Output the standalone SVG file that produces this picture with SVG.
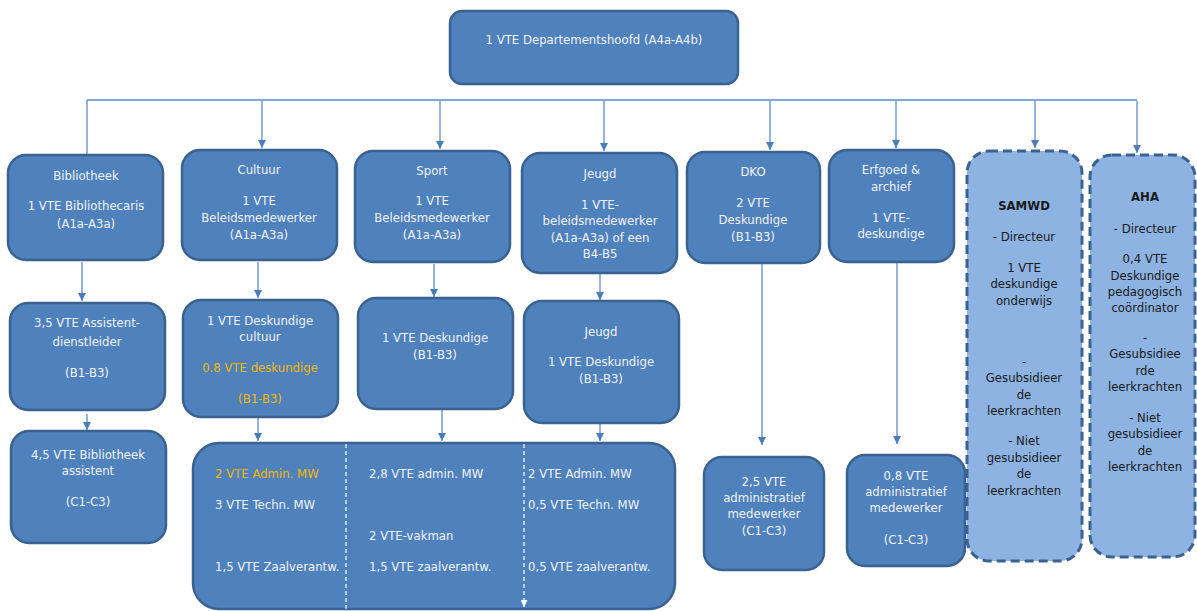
<svg xmlns="http://www.w3.org/2000/svg" width="1197" height="611" viewBox="0 0 1197 611">
<defs>
<marker id="arr" viewBox="0 0 10 10" refX="10" refY="5" markerWidth="8" markerHeight="8" markerUnits="userSpaceOnUse" orient="auto"><path d="M0,0 L10,5 L0,10 z" fill="#4A7EBB"/></marker>
<marker id="arrw" viewBox="0 0 10 10" refX="10" refY="5" markerWidth="7" markerHeight="7" markerUnits="userSpaceOnUse" orient="auto"><path d="M0,0 L10,5 L0,10 z" fill="#FFFFFF"/></marker>
</defs>
<style>
.box{fill:#4F81BD;stroke:#3A6291;stroke-width:2.5}
.lbox{fill:#8DB3E2;stroke:#3A6291;stroke-width:3;stroke-dasharray:9 5}
.t{font-family:"DejaVu Sans",Verdana,sans-serif;font-size:11.7px;fill:#F2F2F2;text-anchor:middle}
.l{text-anchor:start}
.o{fill:#F5B800}
.d{fill:#1A1A1A}
.b{font-weight:bold}
.c{fill:none;stroke:#5B8CC8;stroke-width:1.3}
.w{fill:none;stroke:#FFFFFF;stroke-width:1.2;stroke-dasharray:4 3}
</style>
<rect width="1197" height="611" fill="#FFFFFF"/>
<g id="connectors">
<path class="c" d="M87,100 H1137"/>
<path class="c" d="M87,100 V155"/>
<path class="c" d="M262,101 V148" marker-end="url(#arr)"/>
<path class="c" d="M440,101 V149" marker-end="url(#arr)"/>
<path class="c" d="M604,101 V151" marker-end="url(#arr)"/>
<path class="c" d="M770,101 V150" marker-end="url(#arr)"/>
<path class="c" d="M896,101 V148" marker-end="url(#arr)"/>
<path class="c" d="M1035,101 V148" marker-end="url(#arr)"/>
<path class="c" d="M1137,101 V153" marker-end="url(#arr)"/>
<path class="c" d="M82,262 V301" marker-end="url(#arr)"/>
<path class="c" d="M258,262 V298" marker-end="url(#arr)"/>
<path class="c" d="M434,264 V297" marker-end="url(#arr)"/>
<path class="c" d="M600,274 V300" marker-end="url(#arr)"/>
<path class="c" d="M87,414 V430" marker-end="url(#arr)"/>
<path class="c" d="M258,418 V441" marker-end="url(#arr)"/>
<path class="c" d="M442,410 V441" marker-end="url(#arr)"/>
<path class="c" d="M600,424 V441" marker-end="url(#arr)"/>
<path class="c" d="M762,264 V445" marker-end="url(#arr)"/>
<path class="c" d="M897,263 V444" marker-end="url(#arr)"/>
</g>
<g id="head">
<rect class="box" x="450" y="11" width="288" height="73" rx="12"/>
<text class="t" x="594" y="44">1 VTE Departementshoofd (A4a-A4b)</text>
</g>
<g id="bibliotheek">
<rect class="box" x="8" y="155" width="155" height="105" rx="18"/>
<text class="t" x="86" y="180">Bibliotheek</text>
<text class="t" x="86" y="210">1 VTE Bibliothecaris</text>
<text class="t" x="86" y="228">(A1a-A3a)</text>
</g>
<g id="cultuur">
<rect class="box" x="182" y="150" width="155" height="110" rx="18"/>
<text class="t" x="259" y="174">Cultuur</text>
<text class="t" x="259" y="205">1 VTE</text>
<text class="t" x="259" y="222">Beleidsmedewerker</text>
<text class="t" x="259" y="239">(A1a-A3a)</text>
</g>
<g id="sport">
<rect class="box" x="355" y="151" width="155" height="111" rx="18"/>
<text class="t" x="432" y="175">Sport</text>
<text class="t" x="432" y="205">1 VTE</text>
<text class="t" x="432" y="222">Beleidsmedewerker</text>
<text class="t" x="432" y="239">(A1a-A3a)</text>
</g>
<g id="jeugd">
<rect class="box" x="522" y="153" width="155" height="120" rx="18"/>
<text class="t" x="600" y="178">Jeugd</text>
<text class="t" x="600" y="209">1 VTE-</text>
<text class="t" x="600" y="225">beleidsmedewerker</text>
<text class="t" x="600" y="242">(A1a-A3a) of een</text>
<text class="t" x="600" y="258">B4-B5</text>
</g>
<g id="dko">
<rect class="box" x="687" y="152" width="133" height="111" rx="18"/>
<text class="t" x="753" y="176">DKO</text>
<text class="t" x="753" y="207">2 VTE</text>
<text class="t" x="753" y="224">Deskundige</text>
<text class="t" x="753" y="241">(B1-B3)</text>
</g>
<g id="erfgoed">
<rect class="box" x="829" y="150" width="125" height="112" rx="18"/>
<text class="t" x="891" y="174">Erfgoed &amp;</text>
<text class="t" x="891" y="191">archief</text>
<text class="t" x="891" y="222">1 VTE-</text>
<text class="t" x="891" y="238">deskundige</text>
</g>
<g id="samwd">
<rect class="lbox" x="967" y="151" width="115" height="410" rx="22"/>
<text class="t d b" x="1024" y="210">SAMWD</text>
<text class="t d" x="1024" y="241">- Directeur</text>
<text class="t d" x="1024" y="272">1 VTE</text>
<text class="t d" x="1024" y="288">deskundige</text>
<text class="t d" x="1024" y="305">onderwijs</text>
<text class="t d" x="1024" y="366">-</text>
<text class="t d" x="1024" y="382">Gesubsidieer</text>
<text class="t d" x="1024" y="399">de</text>
<text class="t d" x="1024" y="415">leerkrachten</text>
<text class="t d" x="1024" y="445">- Niet</text>
<text class="t d" x="1024" y="462">gesubsidieer</text>
<text class="t d" x="1024" y="478">de</text>
<text class="t d" x="1024" y="495">leerkrachten</text>
</g>
<g id="aha">
<rect class="lbox" x="1090" y="155" width="105" height="402" rx="22"/>
<text class="t d b" x="1145" y="201">AHA</text>
<text class="t d" x="1145" y="233">- Directeur</text>
<text class="t d" x="1145" y="263">0,4 VTE</text>
<text class="t d" x="1145" y="280">Deskundige</text>
<text class="t d" x="1145" y="296">pedagogisch</text>
<text class="t d" x="1145" y="312">coördinator</text>
<text class="t d" x="1145" y="342">-</text>
<text class="t d" x="1145" y="358">Gesubsidiee</text>
<text class="t d" x="1145" y="375">rde</text>
<text class="t d" x="1145" y="391">leerkrachten</text>
<text class="t d" x="1145" y="422">- Niet</text>
<text class="t d" x="1145" y="438">gesubsidieer</text>
<text class="t d" x="1145" y="455">de</text>
<text class="t d" x="1145" y="471">leerkrachten</text>
</g>
<g id="assistent-dienstleider">
<rect class="box" x="10" y="303" width="155" height="107" rx="18"/>
<text class="t" x="87" y="327">3,5 VTE Assistent-</text>
<text class="t" x="87" y="346">dienstleider</text>
<text class="t" x="87" y="377">(B1-B3)</text>
</g>
<g id="deskundige-cultuur">
<rect class="box" x="183" y="300" width="155" height="117" rx="18"/>
<text class="t" x="260" y="325">1 VTE Deskundige</text>
<text class="t" x="260" y="341">cultuur</text>
<text class="t o" x="260" y="372">0.8 VTE deskundige</text>
<text class="t o" x="260" y="403">(B1-B3)</text>
</g>
<g id="deskundige-sport">
<rect class="box" x="358" y="298" width="155" height="111" rx="18"/>
<text class="t" x="435" y="342">1 VTE Deskundige</text>
<text class="t" x="435" y="359">(B1-B3)</text>
</g>
<g id="deskundige-jeugd">
<rect class="box" x="524" y="301" width="155" height="122" rx="18"/>
<text class="t" x="601" y="336">Jeugd</text>
<text class="t" x="601" y="366">1 VTE Deskundige</text>
<text class="t" x="601" y="383">(B1-B3)</text>
</g>
<g id="bibliotheek-assistent">
<rect class="box" x="11" y="431" width="155" height="112" rx="18"/>
<text class="t" x="88" y="459">4,5 VTE Bibliotheek</text>
<text class="t" x="88" y="475">assistent</text>
<text class="t" x="88" y="506">(C1-C3)</text>
</g>
<g id="medewerkers">
<rect class="box" x="193" y="443" width="482" height="166" rx="26"/>
<path class="w" d="M346,444 V609"/>
<path class="w" d="M524,444 V607" marker-end="url(#arrw)"/>
<text class="t l o" x="215" y="478">2 VTE Admin. MW</text>
<text class="t l" x="215" y="509">3 VTE Techn. MW</text>
<text class="t l" x="215" y="571">1,5 VTE Zaalverantw.</text>
<text class="t l" x="369" y="478">2,8 VTE admin. MW</text>
<text class="t l" x="369" y="540">2 VTE-vakman</text>
<text class="t l" x="369" y="571">1,5 VTE zaalverantw.</text>
<text class="t l" x="528" y="478">2 VTE Admin. MW</text>
<text class="t l" x="528" y="509">0,5 VTE Techn. MW</text>
<text class="t l" x="528" y="571">0,5 VTE zaalverantw.</text>
</g>
<g id="dko-admin">
<rect class="box" x="704" y="457" width="120" height="113" rx="18"/>
<text class="t" x="764" y="486">2,5 VTE</text>
<text class="t" x="764" y="502">administratief</text>
<text class="t" x="764" y="518">medewerker</text>
<text class="t" x="764" y="535">(C1-C3)</text>
</g>
<g id="erfgoed-admin">
<rect class="box" x="847" y="455" width="118" height="111" rx="18"/>
<text class="t" x="906" y="480">0,8 VTE</text>
<text class="t" x="906" y="496">administratief</text>
<text class="t" x="906" y="512">medewerker</text>
<text class="t" x="906" y="544">(C1-C3)</text>
</g>
</svg>
